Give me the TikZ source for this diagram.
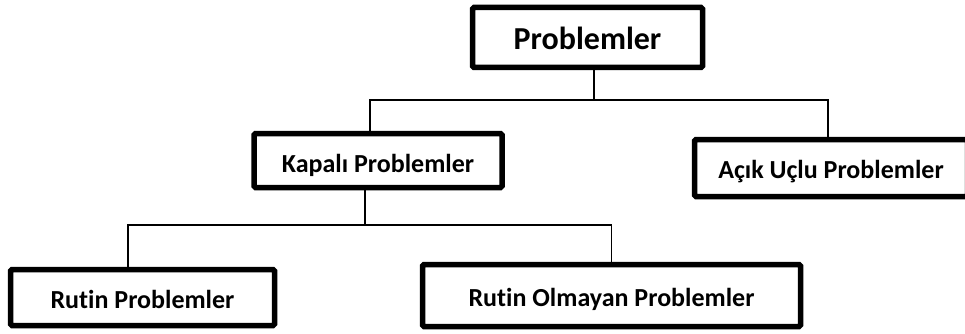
\documentclass[tikz,border=0pt]{standalone}
\usepackage{fontspec}
\setmainfont{Carlito}[Ligatures=NoCommon]
\usepackage{tikz}
\usetikzlibrary{positioning}

\begin{document}
\begin{tikzpicture}[x=1pt, y=-1pt,
      kutu/.style={draw, line width=5.5pt, rounded corners=1.5pt, inner sep=0pt, text height=21pt, text depth=0pt, font=\bfseries\fontsize{26}{30}\selectfont},
      baglanti/.style={line width=1.1pt}]
      \useasboundingbox (0, 0) rectangle (965, 334);
      \node (ana) [kutu, minimum width=230, minimum height=60, text height=25pt, font=\bfseries\fontsize{32}{38}\selectfont] at (587.5, 37.5) {Problemler};
      \node (kapali) [kutu, minimum width=248, minimum height=54, text height=24pt] at (378, 160.5) {Kapalı Problemler};
      \node (acik) [kutu, minimum width=273, minimum height=57] at (831, 168) {Açık Uçlu Problemler};
      \node (rutin) [kutu, minimum width=264, minimum height=56] at (142.5, 297.5) {Rutin Problemler};
      \node (olmayan) [kutu, minimum width=378, minimum height=62] at (611.5, 295.5) {Rutin Olmayan Problemler};
      \coordinate (ust) at (594, 100);
      \coordinate (alt) at (365, 225);
      \draw[baglanti] (ana.south -| ust) -- (ust);
      \draw[baglanti] ([xshift=-8]kapali.north) |- (ust) -| ([xshift=-3]acik.north);
      \draw[baglanti] (kapali.south -| alt) -- (alt);
      \draw[baglanti] ([xshift=-14.5]rutin.north) |- (alt) -| (olmayan.north);
\end{tikzpicture}
\end{document}
